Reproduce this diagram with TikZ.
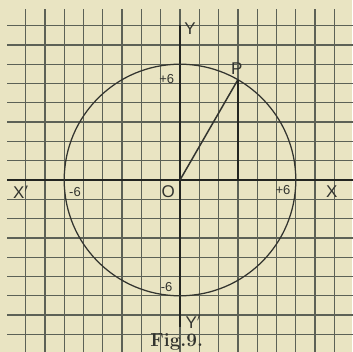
\documentclass[tikz,border=0pt]{standalone}
\usepackage{fontspec}
\newfontfamily\labfont{Liberation Sans}
\definecolor{paper}{RGB}{233,228,194}
\definecolor{gridc}{RGB}{92,97,86}
\definecolor{axisc}{RGB}{35,37,33}
\definecolor{inkc}{RGB}{50,52,47}
\begin{document}
\begin{tikzpicture}[x=19.3pt,y=19.3pt,
  gridline/.style={draw=gridc,line width=1.35pt},
  axisline/.style={draw=axisc,line width=2.4pt},
  curve/.style={draw=inkc,line width=1.25pt},
  seg/.style={draw=inkc,line width=1.5pt},
  lab/.style={text=inkc,inner sep=0pt,font=\labfont\fontsize{17}{17}\selectfont},
  num/.style={text=inkc,inner sep=0pt,font=\labfont\fontsize{13}{13}\selectfont},
  figcaption/.style={text=inkc,inner sep=0pt,font=\bfseries\fontsize{19}{19}\selectfont}]
\fill[paper] (-9.3264,-8.9119) rectangle (8.9119,9.3264);
\useasboundingbox (-9.3264,-8.9119) rectangle (8.9119,9.3264);
% grid
\foreach \k in {-8,...,8} {
  \draw[gridline] (\k,-8.95) -- (\k,8.86);
  \draw[gridline] (-8.96,\k) -- (8.95,\k);
}
% axes
\coordinate (Xl) at (-8.96,0);
\coordinate (Xr) at (8.95,0);
\coordinate (Yt) at (0,8.03);
\coordinate (Yb) at (0,-7.6);
\draw[axisline] (Xl) -- (Xr);
\draw[axisline] (Yt) -- (Yb);
% circle
\coordinate (O) at (0,0);
\draw[curve] (O) circle (6);
\coordinate (P) at (3,5.196);
\coordinate (M) at (3,0);
\draw[seg] (O) -- (P);
\draw[draw=axisc,line width=1.9pt] (P) -- (M);
% labels
\node[lab] (lY) at (0.52,7.82) {Y};
\node[lab] (lYp) at (0.69,-7.34) {Y$'$};
\node[lab] (lX) at (7.86,-0.61) {X};
\node[lab] (lXp) at (-8.25,-0.64) {X$'$};
\node[lab] (lO) at (-0.61,-0.61) {O};
\node[lab] (lP) at (2.94,5.79) {P};
\node[num] (n1) at (-0.69,5.23) {+6};
\node[num] (n2) at (5.34,-0.52) {+6};
\node[num] (n3) at (-5.44,-0.61) {-6};
\node[num] (n4) at (-0.69,-5.53) {-6};
\node[figcaption] (fig) at (-0.17,-8.38) {Fig.9.};
\end{tikzpicture}
\end{document}
